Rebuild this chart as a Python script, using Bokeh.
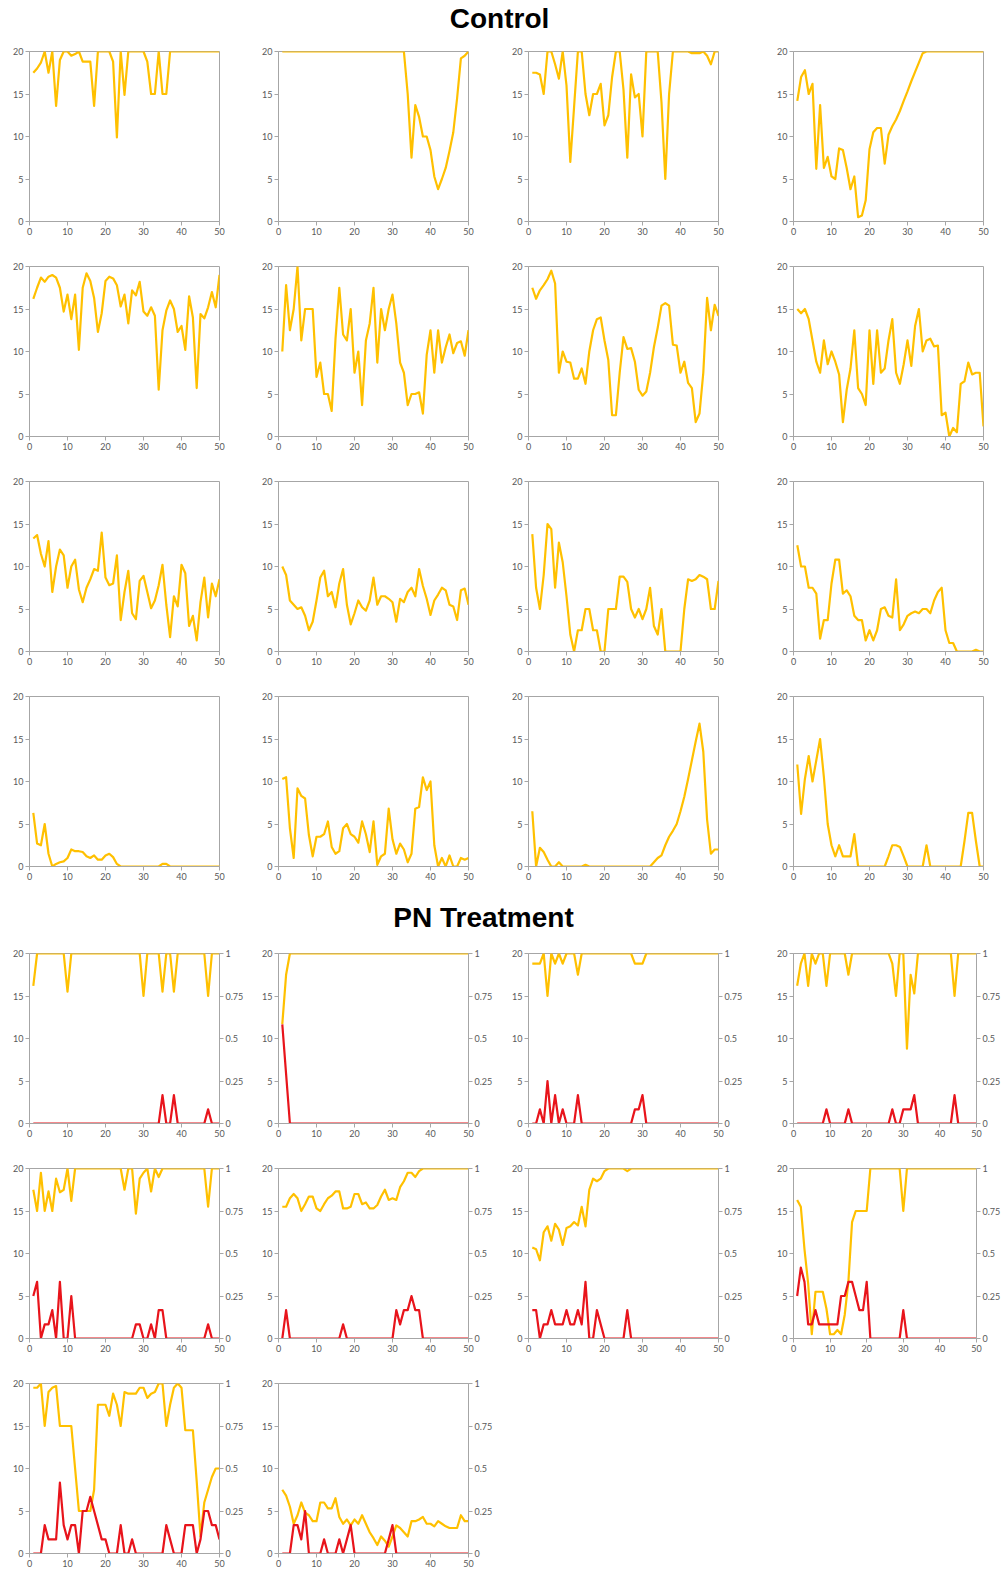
from bokeh.plotting import figure
from bokeh.models import Range1d, LinearAxis, FixedTicker, NumeralTickFormatter
from bokeh.layouts import column, row
from bokeh.embed import file_html
from bokeh.resources import INLINE
from bokeh.core.properties import value

# ---------------- data ----------------
days = list(range(1, 51))
x_ticks = [0, 10, 20, 30, 40, 50]
y_ticks = [0, 5, 10, 15, 20]
frac_ticks = [0, 0.25, 0.5, 0.75, 1]

control_1 = [17.5, 18.0, 18.7, 20, 17.5, 20, 13.6, 19.0, 20, 20,
             19.5, 19.7, 20, 18.8, 18.8, 18.8, 13.6, 20, 20, 20,
             20, 18.8, 9.9, 20, 14.9, 20, 20, 20, 20, 20,
             18.8, 15, 15, 20, 15, 15, 20, 20, 20, 20,
             20, 20, 20, 20, 20, 20, 20, 20, 20, 20]
control_2 = [20, 20, 20, 20, 20, 20, 20, 20, 20, 20,
             20, 20, 20, 20, 20, 20, 20, 20, 20, 20,
             20, 20, 20, 20, 20, 20, 20, 20, 20, 20,
             20, 20, 20, 15, 7.5, 13.7, 12.3, 10, 10, 8.4,
             5.3, 3.8, 5, 6.3, 8.3, 10.5, 14.5, 19.2, 19.5, 20]
control_3 = [17.5, 17.5, 17.3, 15, 20, 20, 18.5, 16.8, 20, 16,
             7, 13.5, 20, 20, 15, 12.5, 15, 15, 16.2, 11.3,
             12.5, 17, 20, 20, 15.5, 7.5, 17.3, 14.6, 15, 10,
             20, 20, 20, 20, 14, 5, 15, 20, 20, 20,
             20, 20, 19.8, 19.8, 19.8, 20, 19.5, 18.5, 20, 20]
control_4 = [14.2, 17, 17.8, 15, 16.2, 6.2, 13.7, 6.3, 7.6, 5.3,
             5, 8.6, 8.4, 6.3, 3.8, 5.3, 0.5, 0.7, 2.5, 8.5,
             10.5, 11, 11, 6.8, 10.2, 11.2, 12, 13, 14.2, 15.3,
             16.5, 17.6, 18.7, 19.8, 20, 20, 20, 20, 20, 20,
             20, 20, 20, 20, 20, 20, 20, 20, 20, 20]
control_5 = [16.2, 17.5, 18.7, 18.2, 18.8, 19, 18.7, 17.5, 14.7, 16.7,
             13.8, 16.7, 10.2, 17.5, 19.2, 18.3, 16.3, 12.3, 14.5, 18.3,
             18.8, 18.6, 17.8, 15.3, 16.7, 13.3, 17.2, 16.6, 18.2, 14.7,
             14.2, 15.2, 14.2, 5.5, 12.5, 14.8, 16, 15, 12.3, 13,
             10.2, 16.5, 14, 5.7, 14.4, 13.9, 15.2, 17, 15.2, 19]
control_6 = [10, 17.8, 12.5, 15, 20, 11.3, 15, 15, 15, 7,
             8.7, 5, 5, 3, 11.5, 17.5, 12, 11.3, 15, 7.5,
             10, 3.7, 11.3, 13.3, 17.5, 8.7, 15, 12.5, 15, 16.7,
             13.3, 8.7, 7.5, 3.7, 5, 5, 5.2, 2.7, 9.6, 12.5,
             7.5, 12.5, 8.7, 10.5, 12, 9.8, 11, 11.2, 9.5, 12.5]
control_7 = [17.5, 16.2, 17.2, 17.8, 18.5, 19.5, 18, 7.5, 10, 8.8,
             8.7, 6.8, 6.8, 8, 6.2, 10, 12.5, 13.8, 14, 11.3,
             9, 2.5, 2.5, 7.5, 11.7, 10.3, 10.4, 8.8, 5.5, 4.8,
             5.3, 7.5, 10.5, 12.8, 15.4, 15.7, 15.4, 10.8, 10.7, 7.5,
             8.8, 6.3, 5.7, 1.7, 2.7, 7.5, 16.3, 12.5, 15.5, 14.2]
control_8 = [15, 14.5, 15, 13.8, 11.3, 8.8, 7.5, 11.3, 8.5, 10,
             8.8, 7.3, 1.7, 5.5, 8, 12.5, 5.7, 5, 3.7, 12.5,
             6.2, 12.5, 7.5, 8, 11.3, 13.8, 7.5, 6.2, 8.5, 11.3,
             8.3, 13, 15, 10, 11.3, 11.5, 10.6, 10.7, 2.5, 2.8,
             0, 1, 0.5, 6.2, 6.5, 8.7, 7.3, 7.5, 7.5, 1.2]
control_9 = [13.3, 13.7, 11.5, 10, 13, 7, 10, 12, 11.3, 7.5,
             10, 10.8, 7.3, 5.8, 7.5, 8.5, 9.7, 9.5, 14, 8.7,
             7.8, 8, 11.3, 3.7, 7, 9.5, 4.5, 3.8, 8.3, 8.9,
             7, 5.1, 6, 7.8, 10.2, 5.5, 1.7, 6.5, 5.3, 10.2,
             9.2, 3, 4.2, 1.3, 5.8, 8.7, 4, 8, 6.5, 8.5]
control_10 = [10, 9, 6, 5.5, 5, 5.2, 4.2, 2.5, 3.5, 6,
              8.7, 9.5, 6.5, 7, 5.2, 8, 9.7, 5.5, 3.2, 4.5,
              6, 5.2, 4.8, 6, 8.7, 5.5, 6.5, 6.5, 6.2, 5.8,
              3.5, 6.2, 5.8, 7, 7.5, 6.5, 9.7, 7.7, 6.2, 4.3,
              6, 6.7, 7.5, 7.2, 5.5, 5.3, 3.7, 7.2, 7.4, 5.5]
control_11 = [13.8, 7.5, 5, 9, 15, 14.4, 7.5, 12.8, 10.5, 6.5,
              2, 0, 2.5, 2.5, 5, 5, 2.5, 2.5, 0, 0,
              5, 5, 5, 8.8, 8.8, 8.2, 5, 4, 5, 3.8,
              5, 7.5, 3, 2, 5, 0, 0, 0, 0, 0,
              5, 8.5, 8.3, 8.5, 9, 8.8, 8.5, 5, 5, 8.3]
control_12 = [12.5, 10, 10, 7.5, 7.5, 6.8, 1.5, 3.7, 3.7, 8,
              10.8, 10.8, 6.8, 7.2, 6.5, 4.2, 3.7, 3.7, 1.3, 2.5,
              1.3, 2.5, 5, 5.2, 4.2, 4, 8.5, 2.5, 3.2, 4.2,
              4.5, 4.7, 4.5, 5, 5, 4.5, 6, 7, 7.5, 2.5,
              1, 1, 0, 0, 0, 0, 0, 0.2, 0, 0]
control_13 = [6.3, 2.7, 2.5, 5, 1.5, 0, 0.3, 0.5, 0.6, 1,
              2, 1.8, 1.8, 1.7, 1.2, 1, 1.3, 0.8, 0.8, 1.3,
              1.5, 1.1, 0.3, 0, 0, 0, 0, 0, 0, 0,
              0, 0, 0, 0, 0.3, 0.3, 0, 0, 0, 0,
              0, 0, 0, 0, 0, 0, 0, 0, 0, 0]
control_14 = [10.3, 10.5, 4.5, 1, 9.2, 8.3, 8, 3.7, 1.2, 3.5,
              3.5, 3.8, 5.3, 2.3, 1.5, 1.8, 4.5, 5, 3.8, 3.5,
              2.8, 5.3, 3.8, 1.7, 5.3, 0.2, 1.2, 1.5, 6.8, 3.2,
              1.5, 2.7, 2, 0.5, 1.5, 6.8, 7, 10.5, 9, 10,
              2.5, 0, 1, 0, 1.3, 0, 0, 1, 0.8, 1]
control_15 = [6.5, 0, 2.2, 1.7, 0.8, 0, 0, 0.5, 0, 0,
              0, 0, 0, 0, 0.2, 0, 0, 0, 0, 0,
              0, 0, 0, 0, 0, 0, 0, 0, 0, 0,
              0, 0, 0.5, 1, 1.3, 2.5, 3.5, 4.2, 5, 6.5,
              8.2, 10.3, 12.5, 14.7, 16.8, 13.5, 5.5, 1.5, 2, 2]
control_16 = [12, 6.2, 10.3, 13, 10, 12.5, 15, 10.5, 5, 2.5,
              1.2, 2.5, 1.2, 1.2, 1.2, 3.8, 0, 0, 0, 0,
              0, 0, 0, 0, 1.2, 2.5, 2.5, 2.3, 1.2, 0,
              0, 0, 0, 0, 2.5, 0, 0, 0, 0, 0,
              0, 0, 0, 0, 3, 6.3, 6.3, 3, 0, 0]

pn_rate_1 = [16.2, 20, 20, 20, 20, 20, 20, 20, 20, 15.5,
             20, 20, 20, 20, 20, 20, 20, 20, 20, 20,
             20, 20, 20, 20, 20, 20, 20, 20, 20, 15,
             20, 20, 20, 20, 15.5, 20, 20, 15.5, 20, 20,
             20, 20, 20, 20, 20, 20, 15, 20, 20, 20]
pn_frac_1 = [0, 0, 0, 0, 0, 0, 0, 0, 0, 0,
             0, 0, 0, 0, 0, 0, 0, 0, 0, 0,
             0, 0, 0, 0, 0, 0, 0, 0, 0, 0,
             0, 0, 0, 0, 0.167, 0, 0, 0.167, 0, 0,
             0, 0, 0, 0, 0, 0, 0.083, 0, 0, 0]
pn_rate_2 = [11.7, 17.5, 20, 20, 20, 20, 20, 20, 20, 20,
             20, 20, 20, 20, 20, 20, 20, 20, 20, 20,
             20, 20, 20, 20, 20, 20, 20, 20, 20, 20,
             20, 20, 20, 20, 20, 20, 20, 20, 20, 20,
             20, 20, 20, 20, 20, 20, 20, 20, 20, 20]
pn_frac_2 = [0.583, 0.29, 0, 0, 0, 0, 0, 0, 0, 0,
             0, 0, 0, 0, 0, 0, 0, 0, 0, 0,
             0, 0, 0, 0, 0, 0, 0, 0, 0, 0,
             0, 0, 0, 0, 0, 0, 0, 0, 0, 0,
             0, 0, 0, 0, 0, 0, 0, 0, 0, 0]
pn_rate_3 = [18.8, 18.8, 18.8, 20, 15, 20, 18.8, 20, 18.8, 20,
             20, 20, 17.5, 20, 20, 20, 20, 20, 20, 20,
             20, 20, 20, 20, 20, 20, 20, 18.8, 18.8, 18.8,
             20, 20, 20, 20, 20, 20, 20, 20, 20, 20,
             20, 20, 20, 20, 20, 20, 20, 20, 20, 20]
pn_frac_3 = [0, 0, 0.083, 0, 0.25, 0, 0.167, 0, 0.083, 0,
             0, 0, 0.167, 0, 0, 0, 0, 0, 0, 0,
             0, 0, 0, 0, 0, 0, 0, 0.083, 0.083, 0.167,
             0, 0, 0, 0, 0, 0, 0, 0, 0, 0,
             0, 0, 0, 0, 0, 0, 0, 0, 0, 0]
pn_rate_4 = [16.2, 18.8, 20, 16.2, 20, 18.8, 20, 20, 16.2, 20,
             20, 20, 20, 20, 17.5, 20, 20, 20, 20, 20,
             20, 20, 20, 20, 20, 20, 18.8, 15, 20, 20,
             8.8, 17.5, 15.3, 20, 20, 20, 20, 20, 20, 20,
             20, 20, 20, 15, 20, 20, 20, 20, 20, 20]
pn_frac_4 = [0, 0, 0, 0, 0, 0, 0, 0, 0.083, 0,
             0, 0, 0, 0, 0.083, 0, 0, 0, 0, 0,
             0, 0, 0, 0, 0, 0, 0.083, 0, 0, 0.083,
             0.083, 0.083, 0.167, 0, 0, 0, 0, 0, 0, 0,
             0, 0, 0, 0.167, 0, 0, 0, 0, 0, 0]
pn_rate_5 = [17.5, 15, 19.5, 15, 17.3, 15, 18.8, 17.2, 17.5, 20,
             16.2, 20, 20, 20, 20, 20, 20, 20, 20, 20,
             20, 20, 20, 20, 17.5, 20, 20, 14.7, 18.8, 19.5,
             20, 17.3, 20, 19, 20, 20, 20, 20, 20, 20,
             20, 20, 20, 20, 20, 20, 15.5, 20, 20, 20]
pn_frac_5 = [0.25, 0.333, 0, 0.083, 0.083, 0.167, 0, 0.333, 0, 0,
             0.25, 0, 0, 0, 0, 0, 0, 0, 0, 0,
             0, 0, 0, 0, 0, 0, 0, 0.083, 0.083, 0,
             0, 0.083, 0, 0.167, 0.167, 0, 0, 0, 0, 0,
             0, 0, 0, 0, 0, 0, 0.083, 0, 0, 0]
pn_rate_6 = [15.5, 15.5, 16.5, 17, 16.5, 15, 15.8, 16.7, 16.7, 15.3,
             15, 15.8, 16.5, 16.8, 17.3, 17.3, 15.3, 15.3, 15.5, 17,
             17, 15.8, 16, 15.3, 15.3, 15.7, 16.7, 17.5, 16.3, 16.5,
             16.3, 17.8, 18.5, 19.5, 19.5, 19, 19.7, 20, 20, 20,
             20, 20, 20, 20, 20, 20, 20, 20, 20, 20]
pn_frac_6 = [0, 0.167, 0, 0, 0, 0, 0, 0, 0, 0,
             0, 0, 0, 0, 0, 0, 0.083, 0, 0, 0,
             0, 0, 0, 0, 0, 0, 0, 0, 0, 0,
             0.167, 0.083, 0.167, 0.167, 0.25, 0.167, 0.167, 0, 0, 0,
             0, 0, 0, 0, 0, 0, 0, 0, 0, 0]
pn_rate_7 = [10.7, 10.5, 9.2, 12.5, 13.2, 11.5, 13.5, 12.8, 11, 13,
             13.2, 13.7, 13.3, 15.5, 13.2, 17.5, 18.8, 18.5, 18.8, 19.7,
             20, 20, 20, 20, 20, 19.7, 20, 20, 20, 20,
             20, 20, 20, 20, 20, 20, 20, 20, 20, 20,
             20, 20, 20, 20, 20, 20, 20, 20, 20, 20]
pn_frac_7 = [0.167, 0.167, 0, 0.083, 0.083, 0.167, 0.083, 0.083, 0.083, 0.167,
             0.083, 0.083, 0.167, 0.083, 0.333, 0, 0, 0.167, 0.083, 0,
             0, 0, 0, 0, 0, 0.167, 0, 0, 0, 0,
             0, 0, 0, 0, 0, 0, 0, 0, 0, 0,
             0, 0, 0, 0, 0, 0, 0, 0, 0, 0]
pn_rate_8 = [16.3, 15.5, 10.5, 6.5, 0.5, 5.5, 5.5, 5.5, 3.5, 0.5,
             0.5, 1, 0.5, 2.8, 6.7, 13.7, 15, 15, 15, 15,
             20, 20, 20, 20, 20, 20, 20, 20, 20, 15,
             20, 20, 20, 20, 20, 20, 20, 20, 20, 20,
             20, 20, 20, 20, 20, 20, 20, 20, 20, 20]
pn_frac_8 = [0.25, 0.417, 0.333, 0.083, 0.083, 0.167, 0.083, 0.083, 0.083, 0.083,
             0.083, 0.083, 0.25, 0.25, 0.333, 0.333, 0.25, 0.167, 0.167, 0.333,
             0, 0, 0, 0, 0, 0, 0, 0, 0, 0.167,
             0, 0, 0, 0, 0, 0, 0, 0, 0, 0,
             0, 0, 0, 0, 0, 0, 0, 0, 0, 0]
pn_rate_9 = [19.5, 19.5, 20, 15, 19, 19.5, 19.7, 15, 15, 15,
             15, 10, 5, 5, 5, 5, 7.5, 17.5, 17.5, 17.5,
             16.2, 18.8, 17.5, 15, 19, 18.8, 18.8, 18.8, 19.5, 19.5,
             18.3, 18.8, 19, 20, 20, 15, 17.5, 19.5, 20, 19.5,
             14.5, 14.5, 14.5, 8.5, 2, 6, 7.5, 9, 10, 10]
pn_frac_9 = [0, 0, 0, 0.167, 0.083, 0.083, 0.083, 0.417, 0.167, 0.083,
             0.167, 0.167, 0, 0.25, 0.25, 0.333, 0.25, 0.167, 0.083, 0.083,
             0, 0, 0, 0.167, 0, 0, 0.083, 0, 0, 0,
             0, 0, 0, 0, 0, 0.167, 0.083, 0, 0, 0,
             0.167, 0.167, 0.167, 0, 0.083, 0.25, 0.25, 0.167, 0.167, 0.083]
pn_rate_10 = [7.5, 6.8, 5.5, 3.5, 4.5, 6, 4.8, 4.5, 3.8, 3.8,
              6, 6, 5.3, 5.3, 6.5, 4.3, 3.5, 4, 3.3, 4,
              3.5, 4.5, 3.5, 2.5, 1.8, 1, 2, 1.5, 0.8, 2,
              3.3, 3, 2.5, 2, 3.8, 3.8, 4, 4.3, 3.5, 3.5,
              3.2, 3.8, 3.5, 3.2, 3, 3, 3, 4.5, 3.8, 3.8]
pn_frac_10 = [0, 0, 0, 0.167, 0.167, 0.083, 0.25, 0, 0, 0,
              0, 0.083, 0, 0, 0, 0.083, 0, 0.083, 0.167, 0,
              0, 0, 0, 0, 0, 0, 0, 0, 0.083, 0.167,
              0, 0, 0, 0, 0, 0, 0, 0, 0, 0,
              0, 0, 0, 0, 0, 0, 0, 0, 0, 0]

control_series = [control_1, control_2, control_3, control_4,
                  control_5, control_6, control_7, control_8,
                  control_9, control_10, control_11, control_12,
                  control_13, control_14, control_15, control_16]
pn_series = [(pn_rate_1, pn_frac_1), (pn_rate_2, pn_frac_2), (pn_rate_3, pn_frac_3), (pn_rate_4, pn_frac_4),
             (pn_rate_5, pn_frac_5), (pn_rate_6, pn_frac_6), (pn_rate_7, pn_frac_7), (pn_rate_8, pn_frac_8),
             (pn_rate_9, pn_frac_9), (pn_rate_10, pn_frac_10)]

# ---------------- style ----------------
YELLOW = "#FFC000"
RED = "#E8141B"
AXIS_GREY = "#A6A6A6"
LABEL_GREY = "#595959"
TICK_FONT = "Lato"
TICK_SIZE = "9px"

COL_W = [250, 250, 255, 248]
COL_L = [29, 28, 28, 38]
FRAME_W = 190
FRAME_H = 170
TOTAL_W = sum(COL_W)


def style_axis(ax):
    ax.axis_line_color = AXIS_GREY
    ax.major_tick_line_color = AXIS_GREY
    ax.minor_tick_line_color = None
    ax.major_tick_out = 4
    ax.major_tick_in = 0
    ax.major_label_standoff = 2
    ax.major_label_text_font = TICK_FONT
    ax.major_label_text_font_size = TICK_SIZE
    ax.major_label_text_color = LABEL_GREY


def panel(ci, rate, frac=None, top=15, bottom=30):
    left = COL_L[ci]
    right = COL_W[ci] - left - FRAME_W
    p = figure(width=COL_W[ci], height=top + FRAME_H + bottom,
               x_range=Range1d(0, 50), y_range=Range1d(0, 20),
               min_border_left=left, min_border_right=right,
               min_border_top=top, min_border_bottom=bottom,
               title_location=None,
               output_backend="svg", toolbar_location=None)
    p.grid.visible = False
    p.outline_line_color = AXIS_GREY
    p.background_fill_color = "white"
    p.border_fill_color = "white"
    p.xaxis.ticker = FixedTicker(ticks=x_ticks)
    p.yaxis.ticker = FixedTicker(ticks=y_ticks)
    p.line(days, rate, line_color=YELLOW, line_width=2.2, line_join="round")
    if frac is not None:
        p.extra_y_ranges = {"frac": Range1d(0, 1)}
        rax = LinearAxis(y_range_name="frac", ticker=FixedTicker(ticks=frac_ticks),
                         formatter=NumeralTickFormatter(format="0.[00]"))
        p.add_layout(rax, "right")
        p.line(days, frac, line_color=RED, line_width=2.2, line_join="round", y_range_name="frac")
    for ax in p.axis:
        style_axis(ax)
    return p


def title_fig(text, h, middle_from_top, center_x):
    p = figure(width=TOTAL_W, height=h, x_range=Range1d(0, TOTAL_W), y_range=Range1d(0, h),
               min_border=0, x_axis_location=None, y_axis_location=None,
               title_location=None,
               output_backend="svg", toolbar_location=None)
    p.grid.visible = False
    p.outline_line_color = None
    p.text(x=[center_x], y=[h - middle_from_top], text=[text],
           text_font=value("Liberation Sans"), text_font_style="bold",
           text_font_size="28px", text_align="center", text_baseline="middle",
           text_color="black")
    return p


rows = [title_fig("Control", 36, 18, 499)]
for r in range(4):
    rows.append(row([panel(c, control_series[r * 4 + c]) for c in range(4)], spacing=0))

rows.append(title_fig("PN Treatment", 42, 21, 483))
pn_rows = [[0, 1, 2, 3], [4, 5, 6, 7], [8, 9]]
for ri, idxs in enumerate(pn_rows):
    bottom = 20 if ri == 2 else 30
    figs = [panel(c, pn_series[i][0], pn_series[i][1], bottom=bottom) for c, i in enumerate(idxs)]
    rows.append(row(figs, spacing=0))

layout = column(rows, spacing=0)

open("out.html", "w").write(file_html(layout, INLINE))
